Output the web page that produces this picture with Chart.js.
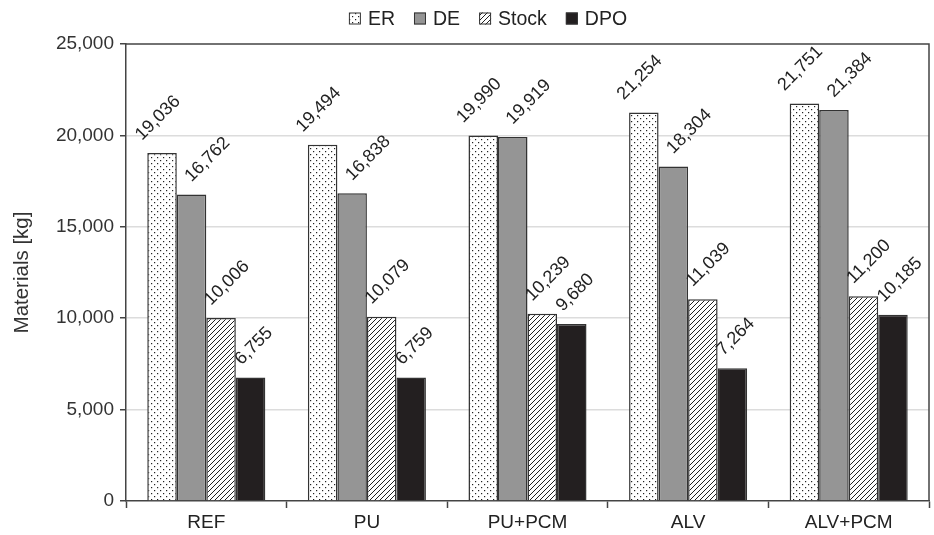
<!DOCTYPE html>
<html>
<head>
<meta charset="utf-8">
<script src="https://cdn.jsdelivr.net/npm/chart.js@4"></script>
<style>
  html, body { margin: 0; padding: 0; background: #fff; }
  #wrap { width: 934px; height: 535px; }
</style>
</head>
<body>
<div id="wrap"><canvas id="materials" width="934" height="535"></canvas></div>
<script>
// chart data
const categories = ['REF', 'PU', 'PU+PCM', 'ALV', 'ALV+PCM'];
const seriesNames = ['ER', 'DE', 'Stock', 'DPO'];
const erValues = [19036, 19494, 19990, 21254, 21751];
const deValues = [16762, 16838, 19919, 18304, 21384];
const stockValues = [10006, 10079, 10239, 11039, 11200];
const dpoValues = [6755, 6759, 9680, 7264, 10185];
const yTicks = [0, 5000, 10000, 15000, 20000, 25000];

const FONT = '"Liberation Sans", Arial, sans-serif';
const INK = '#333';

// fill patterns, like the printed figure
function dotPattern() {
    const c = document.createElement('canvas');
    c.width = 6; c.height = 6;
    const g = c.getContext('2d');
    g.fillStyle = '#fff';
    g.fillRect(0, 0, 6, 6);
    g.fillStyle = '#222';
    g.fillRect(1, 1, 1.2, 1.2);
    g.fillRect(4, 4, 1.2, 1.2);
    return g.createPattern(c, 'repeat');
}

function hatchPattern() {
    const c = document.createElement('canvas');
    c.width = 5; c.height = 5;
    const g = c.getContext('2d');
    g.fillStyle = '#fff';
    g.fillRect(0, 0, 5, 5);
    g.strokeStyle = '#222';
    g.lineWidth = 1;
    g.beginPath();
    g.moveTo(0, 5); g.lineTo(5, 0);
    g.moveTo(-1, 1); g.lineTo(1, -1);
    g.moveTo(4, 6); g.lineTo(6, 4);
    g.stroke();
    return g.createPattern(c, 'repeat');
}

const fills = [dotPattern(), '#959595', hatchPattern(), '#231f20'];
const seriesValues = [erValues, deValues, stockValues, dpoValues];
// label nudges, set by hand in the original so the numbers do not collide
const labelShift = [-20, 0, -10, -9];

function fmt(v) {
    return v.toLocaleString('en-US');
}

// rotated value labels over the bars
const valueLabels = {
    id: 'valueLabels',
    afterDatasetsDraw(chart) {
        const ctx = chart.ctx;
        ctx.save();
        ctx.font = '18px ' + FONT;
        ctx.fillStyle = '#222';
        ctx.textAlign = 'left';
        ctx.textBaseline = 'alphabetic';
        chart.data.datasets.forEach((ds, i) => {
            chart.getDatasetMeta(i).data.forEach((bar, j) => {
                ctx.save();
                ctx.translate(bar.x + labelShift[i], bar.y - 12);
                ctx.rotate(-Math.PI / 4);
                ctx.fillText(fmt(ds.data[j]), 0, 0);
                ctx.restore();
            });
        });
        ctx.restore();
    }
};

// top and right edges of the plot box
const plotFrame = {
    id: 'plotFrame',
    afterDraw(chart) {
        const a = chart.chartArea;
        const ctx = chart.ctx;
        ctx.save();
        ctx.strokeStyle = '#444';
        ctx.lineWidth = 1.5;
        ctx.beginPath();
        ctx.moveTo(a.left, a.top);
        ctx.lineTo(a.right, a.top);
        ctx.lineTo(a.right, a.bottom);
        ctx.stroke();
        ctx.restore();
    }
};

// legend across the top, boxes carry the same fills
const topLegend = {
    id: 'topLegend',
    afterDraw(chart) {
        const ctx = chart.ctx;
        ctx.save();
        ctx.font = '19.5px ' + FONT;
        ctx.textBaseline = 'middle';
        ctx.fillStyle = '#222';
        const box = 12, gap = 7, spacing = 19;
        const widths = seriesNames.map(n => box + gap + ctx.measureText(n).width);
        const total = widths.reduce((s, w) => s + w, 0) + spacing * (widths.length - 1);
        let x = (chart.width - total) / 2 + 21;
        const y = 18.5;
        seriesNames.forEach((name, i) => {
            ctx.fillStyle = fills[i];
            ctx.fillRect(x, y - box / 2, box, box);
            ctx.strokeStyle = '#333';
            ctx.lineWidth = 1;
            ctx.strokeRect(x + 0.5, y - box / 2 + 0.5, box - 1, box - 1);
            ctx.fillStyle = '#222';
            ctx.fillText(name, x + box + gap, y + 1);
            x += widths[i] + spacing;
        });
        ctx.restore();
    }
};

const datasets = seriesNames.map((name, i) => ({
    label: name,
    data: seriesValues[i],
    backgroundColor: fills[i],
    borderColor: '#333',
    borderWidth: 1.5,
    categoryPercentage: 0.735,
    barPercentage: 1.0
}));

new Chart(document.getElementById('materials').getContext('2d'), {
    type: 'bar',
    data: { labels: categories, datasets: datasets },
    options: {
        responsive: false,
        animation: false,
        devicePixelRatio: 1,
        layout: { padding: { top: 44, right: 5, left: 0, bottom: 0 } },
        plugins: {
            legend: { display: false },
            tooltip: { enabled: false }
        },
        scales: {
            x: {
                grid: {
                    offset: true,
                    drawOnChartArea: false,
                    tickLength: 7,
                    tickColor: '#444',
                    tickWidth: 1.5
                },
                border: { color: '#444', width: 1.5 },
                ticks: {
                    font: { family: FONT, size: 19 },
                    color: '#222',
                    padding: 3
                },
                afterFit(scale) { scale.height = 34; }
            },
            y: {
                min: 0,
                max: 25000,
                afterBuildTicks(scale) {
                    scale.ticks = yTicks.map(v => ({ value: v }));
                },
                grid: {
                    color: ctx => (ctx.tick && (ctx.tick.value === 0 || ctx.tick.value === 25000)) ? 'rgba(0,0,0,0)' : '#dcdcdc',
                    lineWidth: 1.5,
                    tickLength: 6,
                    tickColor: '#444'
                },
                border: { color: '#444', width: 1.5 },
                ticks: {
                    font: { family: FONT, size: 19 },
                    color: INK,
                    padding: 6,
                    callback: v => fmt(v)
                },
                title: {
                    display: true,
                    text: 'Materials [kg]',
                    font: { family: FONT, size: 20.5 },
                    color: INK,
                    padding: { top: 10, bottom: 0 }
                },
                afterFit(scale) { scale.width = 126; }
            }
        }
    },
    plugins: [valueLabels, plotFrame, topLegend]
});
</script>
</body>
</html>
